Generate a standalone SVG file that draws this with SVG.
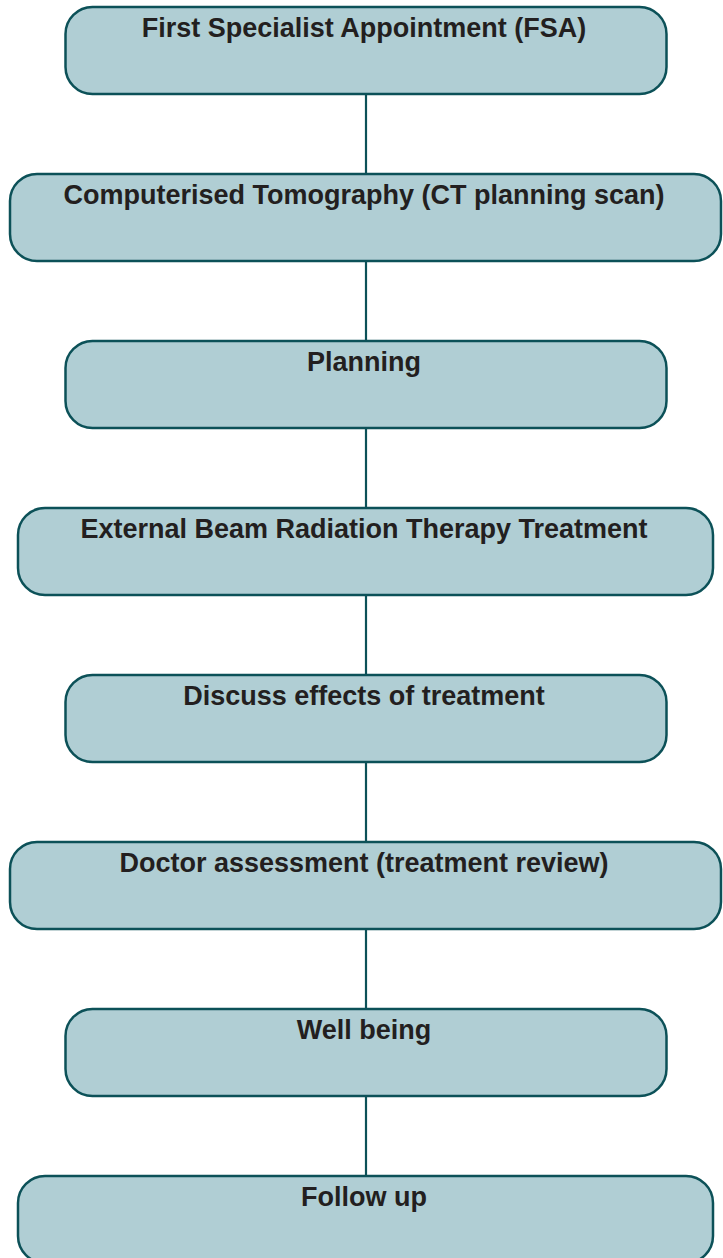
<svg xmlns="http://www.w3.org/2000/svg" width="723" height="1258" viewBox="0 0 723 1258">
<style>
.box{fill:#b0ced4;stroke:#0c5158;stroke-width:2.5}
.lbl{font-family:"Liberation Sans",Arial,sans-serif;font-weight:bold;font-size:27px;fill:#231f20;text-anchor:middle}
.conn{stroke:#0c5158;stroke-width:2.2;fill:none}
</style>
<rect width="723" height="1258" fill="#ffffff"/>
<g id="connectors">
<line class="conn" x1="366" y1="94" x2="366" y2="175"/>
<line class="conn" x1="366" y1="261" x2="366" y2="342"/>
<line class="conn" x1="366" y1="428" x2="366" y2="509"/>
<line class="conn" x1="366" y1="595" x2="366" y2="676"/>
<line class="conn" x1="366" y1="762" x2="366" y2="843"/>
<line class="conn" x1="366" y1="929" x2="366" y2="1010"/>
<line class="conn" x1="366" y1="1096" x2="366" y2="1177"/>
</g>
<g id="n1"><rect class="box" x="65.5" y="7" width="601" height="87" rx="27"/><text class="lbl" x="364" y="37">First Specialist Appointment (FSA)</text></g>
<g id="n2"><rect class="box" x="10" y="174" width="711" height="87" rx="27"/><text class="lbl" x="364" y="204">Computerised Tomography (CT planning scan)</text></g>
<g id="n3"><rect class="box" x="65.5" y="341" width="601" height="87" rx="27"/><text class="lbl" x="364" y="371">Planning</text></g>
<g id="n4"><rect class="box" x="18" y="508" width="695" height="87" rx="27"/><text class="lbl" x="364" y="538">External Beam Radiation Therapy Treatment</text></g>
<g id="n5"><rect class="box" x="65.5" y="675" width="601" height="87" rx="27"/><text class="lbl" x="364" y="705">Discuss effects of treatment</text></g>
<g id="n6"><rect class="box" x="10" y="842" width="711" height="87" rx="27"/><text class="lbl" x="364" y="872">Doctor assessment (treatment review)</text></g>
<g id="n7"><rect class="box" x="65.5" y="1009" width="601" height="87" rx="27"/><text class="lbl" x="364" y="1039">Well being</text></g>
<g id="n8"><rect class="box" x="18" y="1176" width="695" height="87" rx="27"/><text class="lbl" x="364" y="1206">Follow up</text></g>
</svg>
